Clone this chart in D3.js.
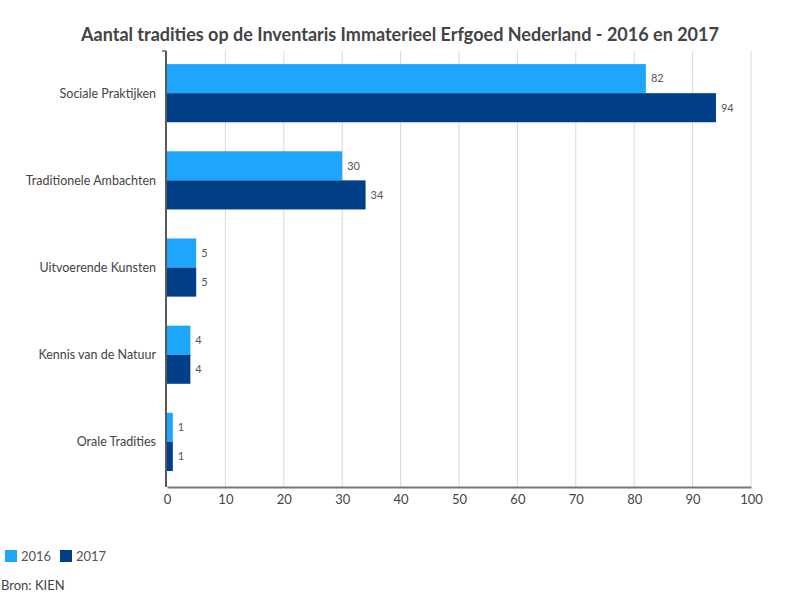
<!DOCTYPE html>
<html>
<head>
<meta charset="utf-8">
<script src="https://cdn.jsdelivr.net/npm/d3@7"></script>
<style>
  body { margin: 0; background: #fff; }
  text { font-family: Lato, "Open Sans", sans-serif; }
</style>
</head>
<body>
<div id="chart"></div>
<script>
// data
var categories = ["Sociale Praktijken", "Traditionele Ambachten", "Uitvoerende Kunsten", "Kennis van de Natuur", "Orale Tradities"];
var seriesNames = ["2016", "2017"];
var values2016 = [82, 30, 5, 4, 1];
var values2017 = [94, 34, 5, 4, 1];
var xTicks = [0, 10, 20, 30, 40, 50, 60, 70, 80, 90, 100];
var colors = ["#1ea6fc", "#013f88"];

var svgWidth = 800;
var svgHeight = 600;

var margin = { top: 51, right: 49, bottom: 113, left: 167 };
var width = svgWidth - margin.left - margin.right;
var height = svgHeight - margin.top - margin.bottom;

var svg = d3.select("#chart")
  .append("svg")
  .attr("width", svgWidth)
  .attr("height", svgHeight);

// title
svg.append("text")
  .attr("x", 400)
  .attr("y", 41)
  .attr("text-anchor", "middle")
  .attr("font-size", "18px")
  .attr("font-weight", "bold")
  .attr("fill", "#444")
  .text("Aantal tradities op de Inventaris Immaterieel Erfgoed Nederland - 2016 en 2017");

var chartGroup = svg.append("g")
  .attr("transform", `translate(${margin.left}, ${margin.top})`);

var xScale = d3.scaleLinear()
  .domain([0, 100])
  .range([0, width]);

var yScale = d3.scaleBand()
  .domain(categories)
  .range([0, height])
  .paddingInner(0.333)
  .paddingOuter(0.167)
  .align(0.45);

var inner = d3.scaleBand()
  .domain(seriesNames)
  .range([0, yScale.bandwidth()]);

// gridlines
chartGroup.append("g")
  .selectAll("line")
  .data(xTicks.slice(1))
  .enter()
  .append("line")
  .attr("x1", d => xScale(d))
  .attr("x2", d => xScale(d))
  .attr("y1", 0)
  .attr("y2", height)
  .attr("stroke", "#d9d9d9")
  .attr("stroke-width", 1);

// bars
var rows = categories.map((c, i) => ({ cat: c, vals: [values2016[i], values2017[i]] }));

var groups = chartGroup.selectAll(".grp")
  .data(rows)
  .enter()
  .append("g")
  .attr("class", "grp")
  .attr("transform", d => `translate(0, ${yScale(d.cat)})`);

groups.selectAll("rect")
  .data(d => d.vals.map((v, j) => ({ key: seriesNames[j], v: v, j: j })))
  .enter()
  .append("rect")
  .attr("x", 0)
  .attr("y", d => inner(d.key))
  .attr("width", d => xScale(d.v))
  .attr("height", inner.bandwidth())
  .attr("fill", d => colors[d.j]);

groups.selectAll(".val")
  .data(d => d.vals.map((v, j) => ({ key: seriesNames[j], v: v })))
  .enter()
  .append("text")
  .attr("class", "val")
  .attr("x", d => xScale(d.v) + 5)
  .attr("y", d => inner(d.key) + inner.bandwidth() / 2)
  .attr("dy", "0.35em")
  .attr("font-size", "11px")
  .attr("fill", "#555")
  .text(d => d.v);

// category labels
chartGroup.append("g")
  .selectAll("text")
  .data(categories)
  .enter()
  .append("text")
  .attr("x", -11)
  .attr("y", d => yScale(d) + yScale.bandwidth() / 2)
  .attr("dy", "0.35em")
  .attr("text-anchor", "end")
  .attr("font-size", "12.5px")
  .attr("fill", "#444")
  .text(d => d);

// bottom axis
var bottomAxis = d3.axisBottom(xScale)
  .tickValues(xTicks)
  .tickSize(0)
  .tickPadding(8);

var xAxis = chartGroup.append("g")
  .attr("transform", `translate(0, ${height})`)
  .call(bottomAxis);
xAxis.select(".domain").attr("stroke", "#777").attr("stroke-width", 2);
xAxis.selectAll("text")
  .attr("font-family", "Lato, sans-serif")
  .attr("font-size", "13px")
  .attr("fill", "#444");

// left axis line
chartGroup.append("line")
  .attr("x1", -1)
  .attr("x2", -1)
  .attr("y1", 0)
  .attr("y2", height)
  .attr("stroke", "#222")
  .attr("stroke-width", 1.5);
chartGroup.append("line")
  .attr("x1", -5)
  .attr("x2", -1)
  .attr("y1", 0)
  .attr("y2", 0)
  .attr("stroke", "#222")
  .attr("stroke-width", 1);

// legend
var legend = svg.append("g").attr("transform", "translate(5, 550)");
var legendX = [0, 55];
seriesNames.forEach(function(name, i) {
  legend.append("rect")
    .attr("x", legendX[i])
    .attr("y", 0)
    .attr("width", 12)
    .attr("height", 12)
    .attr("fill", colors[i]);
  legend.append("text")
    .attr("x", legendX[i] + 16)
    .attr("y", 6)
    .attr("dy", "0.35em")
    .attr("font-size", "13px")
    .attr("fill", "#555")
    .text(name);
});

// source
svg.append("text")
  .attr("x", 1)
  .attr("y", 585)
  .attr("dy", "0.35em")
  .attr("font-size", "13px")
  .attr("fill", "#444")
  .text("Bron: KIEN");
</script>
</body>
</html>
